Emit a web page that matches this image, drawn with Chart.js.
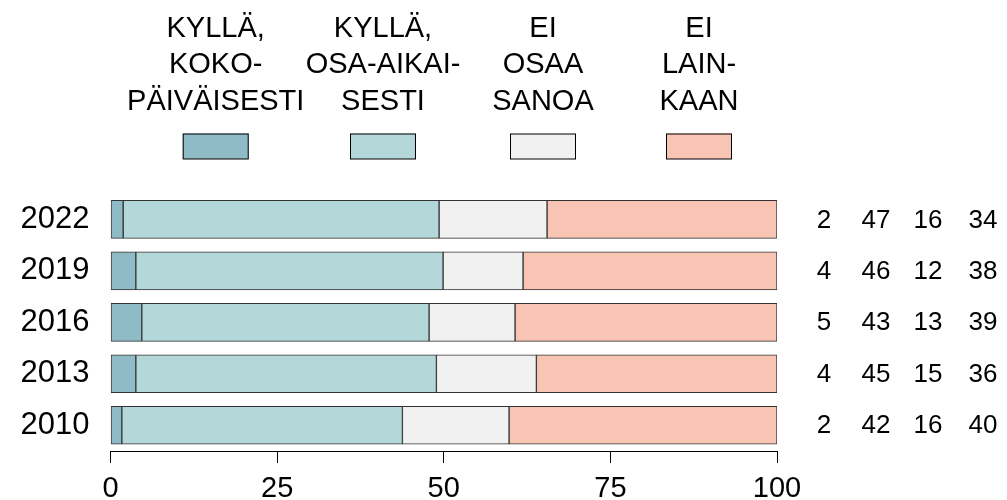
<!DOCTYPE html>
<html>
<head>
<meta charset="utf-8">
<script src="https://cdn.jsdelivr.net/npm/chart.js@4/dist/chart.umd.min.js"></script>
<style>
html,body{margin:0;padding:0;background:#fff;}
#wrap{width:1007px;height:500px;}
</style>
</head>
<body>
<div id="wrap"><canvas id="c" width="1007" height="500"></canvas></div>
<script>
const years = ['2022', '2019', '2016', '2013', '2010'];
const fullTime = [1.9, 3.8, 4.7, 3.8, 1.7];
const partTime = [47.4, 46.1, 43.1, 45.1, 42.1];
const dontKnow = [16.2, 12.0, 12.9, 15.0, 16.0];
const notAtAll = [34.5, 38.1, 39.3, 36.1, 40.2];
const shownFull = [2, 4, 5, 4, 2];
const shownPart = [47, 46, 43, 45, 42];
const shownDontKnow = [16, 12, 13, 15, 16];
const shownNot = [34, 38, 39, 36, 40];
const legendFull = ['KYLLÄ,', 'KOKO-', 'PÄIVÄISESTI'];
const legendPart = ['KYLLÄ,', 'OSA-AIKAI-', 'SESTI'];
const legendDontKnow = ['EI', 'OSAA', 'SANOA'];
const legendNot = ['EI', 'LAIN-', 'KAAN'];
const xTicks = [0, 25, 50, 75, 100];

const colors = ['#8fbbc6', '#b4d8da', '#f1f1f1', '#f8c4b3'];
const FONT = '"Liberation Sans", Arial, sans-serif';

const legendPlugin = {
  id: 'customLegend',
  afterDraw(chart) {
    const ctx = chart.ctx;
    const legends = [legendFull, legendPart, legendDontKnow, legendNot];
    const centers = [215.7, 383, 543, 699];
    ctx.save();
    ctx.font = '29px ' + FONT;
    ctx.fillStyle = '#000';
    ctx.textAlign = 'center';
    ctx.textBaseline = 'alphabetic';
    legends.forEach((lines, i) => {
      lines.forEach((ln, j) => {
        ctx.fillText(ln, centers[i], 36.7 + j * 36.7);
      });
      ctx.fillStyle = colors[i];
      ctx.fillRect(centers[i] - 33, 133.5, 66, 25.5);
      ctx.strokeStyle = '#000';
      ctx.lineWidth = 1;
      ctx.strokeRect(centers[i] - 33 + 0.5, 133.5 + 0.5, 65, 25);
      ctx.fillStyle = '#000';
    });
    // right-hand values
    const cols = [shownFull, shownPart, shownDontKnow, shownNot];
    const colX = [824, 876, 928, 983];
    ctx.font = '26px ' + FONT;
    ctx.textBaseline = 'middle';
    const ys = chart.scales.y;
    years.forEach((yr, r) => {
      const py = ys.getPixelForValue(r);
      cols.forEach((arr, c) => {
        ctx.fillText(String(arr[r]), colX[c], py + 1);
      });
    });
    ctx.restore();
  }
};

const mk = (label, data, i) => ({
  label, data,
  backgroundColor: colors[i],
  borderColor: '#333',
  borderWidth: 1,
  borderSkipped: false,
  barThickness: 38
});

new Chart(document.getElementById('c'), {
  type: 'bar',
  data: {
    labels: years,
    datasets: [
      mk(legendFull.join(' '), fullTime, 0),
      mk(legendPart.join(' '), partTime, 1),
      mk(legendDontKnow.join(' '), dontKnow, 2),
      mk(legendNot.join(' '), notAtAll, 3)
    ]
  },
  options: {
    indexAxis: 'y',
    responsive: false,
    animation: false,
    devicePixelRatio: 1,
    layout: { padding: { top: 193.6, left: 0, right: 230, bottom: 0 } },
    plugins: { legend: { display: false }, tooltip: { enabled: false } },
    scales: {
      x: {
        stacked: true,
        min: 0, max: 100,
        afterBuildTicks: (axis) => { axis.ticks = xTicks.map(v => ({ value: v })); },
        afterFit: (scale) => { scale.height = 49; },
        grid: { display: true, drawOnChartArea: false, drawTicks: true, tickLength: 12, tickColor: '#000', tickWidth: 1 },
        border: { display: true, color: '#000', width: 1 },
        ticks: { color: '#000', font: { family: FONT, size: 29, lineHeight: 1.1 }, padding: 10, maxRotation: 0 }
      },
      y: {
        stacked: true,
        afterFit: (scale) => { scale.width = 110.5; },
        grid: { display: false, drawTicks: false },
        border: { display: false },
        ticks: { color: '#000', font: { family: FONT, size: 31 }, padding: 21 }
      }
    }
  },
  plugins: [legendPlugin]
});
</script>
</body>
</html>
